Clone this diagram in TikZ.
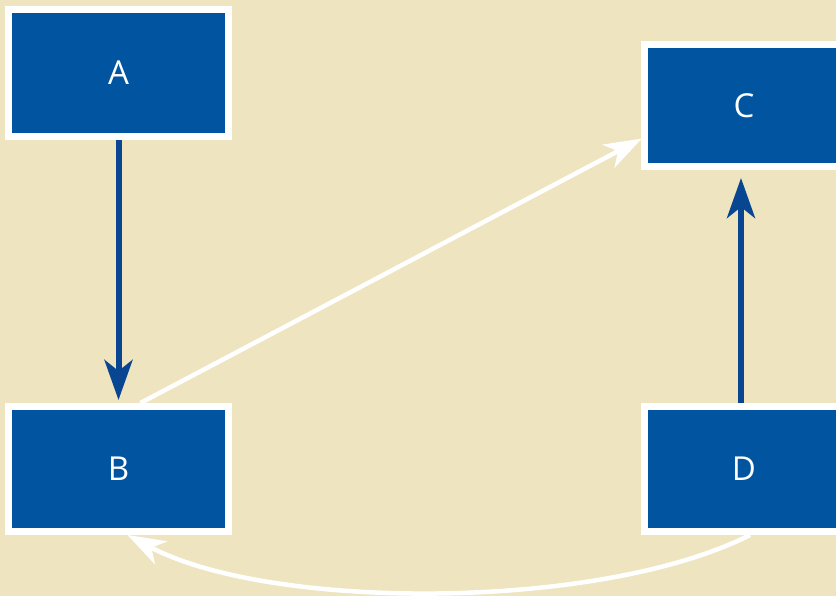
\documentclass[tikz,border=0pt]{standalone}
\usepackage{fontspec}
\setmainfont{Open Sans}
\usetikzlibrary{arrows.meta,calc}
\definecolor{bg}{RGB}{238,228,192}
\definecolor{boxblue}{RGB}{0,84,160}
\definecolor{arrblue}{RGB}{8,70,146}
\begin{document}
\begin{tikzpicture}[x=1pt,y=-1pt,
  box/.style={draw=white, line width=7pt, fill=boxblue, text=white,
    font=\fontsize{33}{36}\selectfont, inner sep=0pt},
  bluearr/.style={draw=arrblue, line width=6pt,
    -{Stealth[length=40pt,width=28pt,inset=11pt]}},
  whitearr/.style={draw=white, line width=4.5pt,
    -{Stealth[length=38pt,width=26pt,inset=11pt]}}]
\fill[bg] (0,0) rectangle (836,596);
\useasboundingbox (0,0) rectangle (836,596);
\begin{scope}
\clip (0,0) rectangle (836,596);
\node[box, minimum width=220pt, minimum height=127pt] (A) at (118.5,73) {A};
\node[box, minimum width=220pt, minimum height=125pt] (B) at (118.5,469) {B};
\node[box, minimum width=199pt, minimum height=122pt] (C) at (744,105.5) {C};
\node[box, minimum width=199pt, minimum height=125pt] (D) at (744,469) {D};
\draw[bluearr, shorten >=3pt] (A.south) -- (B.north);
\draw[bluearr, shorten >=8pt] ($(D.north)+(-3,0)$) -- ($(C.south)+(-3,0)$);
\draw[whitearr] ($(B.north)+(22,0)$) -- ($(C.west)+(1,33)$);
\draw[whitearr] ($(D.south)+(6,0)$) .. controls +(-150,76) and +(143,76) .. ($(B.south)+(9,0)$);
\end{scope}
\end{tikzpicture}
\end{document}
